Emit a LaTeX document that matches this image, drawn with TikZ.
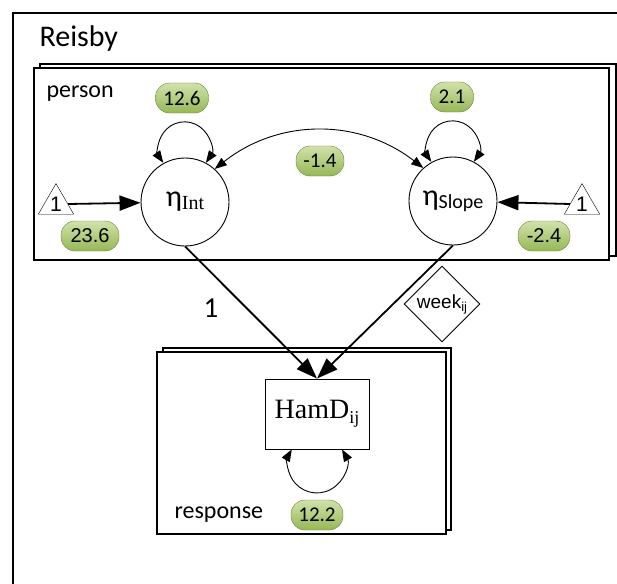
\documentclass[tikz,border=0pt]{standalone}
\usepackage{fontspec}
\setmainfont{Carlito}
\newfontfamily\serifont{Liberation Serif}
\newfontfamily\arialfont{Liberation Sans}
\usetikzlibrary{shapes.geometric,arrows.meta}
\definecolor{pilltop}{RGB}{208,226,170}
\definecolor{pillbot}{RGB}{150,184,86}
\definecolor{pilledge}{RGB}{108,132,58}
\tikzstyle{plate} = [draw, line width=1.8pt, fill=white]
\tikzstyle{latent} = [draw, circle, line width=0.9pt, minimum size=88pt, inner sep=0pt, fill=white]
\tikzstyle{pill} = [draw=pilledge, top color=pilltop, bottom color=pillbot, rectangle, rounded corners=14pt, minimum height=30pt, inner sep=2pt, font=\fontsize{21}{21}\selectfont]
\tikzstyle{pillsans} = [pill, font=\arialfont\fontsize{20}{20}\selectfont]
\tikzstyle{unit} = [draw, regular polygon, regular polygon sides=3, minimum size=39pt, inner sep=0pt, fill=white, font=\arialfont\fontsize{21}{21}\selectfont]
\tikzstyle{effect} = [line width=1.8pt, -{Triangle[length=21pt,width=15pt]}]
\tikzstyle{covar} = [line width=0.9pt, {Triangle[length=12pt,width=9pt]}-{Triangle[length=12pt,width=9pt]}]
\tikzstyle{label} = [anchor=base west, font=\fontsize{24}{24}\selectfont]

\begin{document}
\begin{tikzpicture}[x=1pt,y=-1pt]
	\useasboundingbox (0,0) rectangle (617,583);
	\draw[line width=1.8pt] (13,595) -- (13,13) -- (630,13);
	\node[label, font=\fontsize{30}{30}\selectfont] (title) at (36,47) {Reisby};
	\draw[plate] (40,64) rectangle (616,256);
	\draw[plate] (34,68) rectangle (609,260);
	\node[label] (person) at (43,98) {person};
	\draw[plate] (163,348) rectangle (451,530);
	\draw[plate] (157,352) rectangle (446,534);
	\node[label] (response) at (171,518) {response};
	\node[latent] (int) at (185,202) {\fontsize{30}{30}\selectfont η\raisebox{-3pt}{\serifont\fontsize{20}{20}\selectfont Int}};
	\node[latent] (slope) at (453,201) {\fontsize{30}{30}\selectfont η\raisebox{-3pt}{\fontsize{20}{20}\selectfont Slope}};
	\node[unit] (onel) at (56,204) {1};
	\node[unit] (oner) at (582,204) {1};
	\node[pill, minimum width=53pt] (vint) at (182,98) {12.6};
	\node[pill, minimum width=43pt] (vslope) at (452,97) {2.1};
	\node[pill, minimum width=48pt] (cov) at (320,161) {-1.4};
	\node[pillsans, minimum width=58pt] (mint) at (90,236) {23.6};
	\node[pillsans, minimum width=52pt] (mslope) at (544,236) {-2.4};
	\node[draw, line width=0.9pt, minimum width=104pt, minimum height=70pt, fill=white, font=\serifont\fontsize{28}{28}\selectfont] (hamd) at (317,414) {HamD\raisebox{-5pt}{\fontsize{18}{18}\selectfont ij}};
	\node[pill, minimum width=52pt] (vres) at (317,515) {12.2};
	\node[font=\fontsize{29}{29}\selectfont] (one) at (211,308) {1};
	\node[draw, diamond, line width=0.9pt, minimum width=76pt, minimum height=76pt, inner sep=0pt, fill=white, font=\arialfont\fontsize{19}{19}\selectfont] (week) at (442,304) {week\raisebox{-3pt}{\fontsize{13}{13}\selectfont ij}};
	\draw[effect] (onel.east) -- (int);
	\draw[effect] (oner.west) -- (slope);
	\draw[effect] (int.south) -- (hamd.north);
	\draw[effect] (slope.south) -- (hamd.north);
	\draw[covar] (int.48) to[bend left=38] (slope.132);
	\draw[covar] (int.62) arc[start angle=35, end angle=-215, radius=26];
	\draw[covar] (slope.62) arc[start angle=35, end angle=-215, radius=26];
	\draw[covar] ([xshift=25pt]hamd.south) arc[start angle=-30, end angle=210, radius=29];
\end{tikzpicture}
\end{document}
